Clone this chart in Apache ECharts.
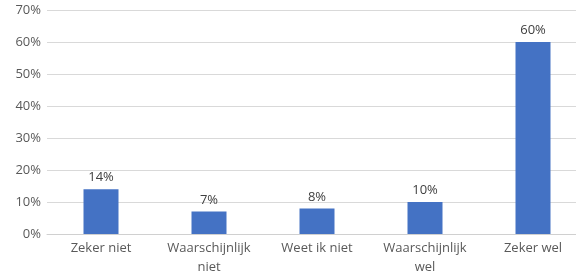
<!DOCTYPE html>
<html lang="nl">
<head>
    <meta charset="UTF-8">
    <title>Zeker niet / Zeker wel</title>
    <script type="text/javascript" src="https://cdn.jsdelivr.net/npm/echarts@6/dist/echarts.min.js"></script>
    <style>
        html, body { margin: 0; padding: 0; background: #fff; overflow: hidden; }
    </style>
</head>
<body>
    <!-- a bit wider than the window: the plot runs past the right edge in the original -->
    <div id="main" style="width: 600px; height: 277px;"></div>
    <script type="text/javascript">
        // data
        var categories = ['Zeker niet', 'Waarschijnlijk\nniet', 'Weet ik niet', 'Waarschijnlijk\nwel', 'Zeker wel'];
        var percentages = [14, 7, 8, 10, 60];
        var yTicks = [0, 10, 20, 30, 40, 50, 60, 70];

        var myChart = echarts.init(document.getElementById('main'));

        myChart.setOption({
            animation: false,
            textStyle: { fontFamily: 'Open Sans' },
            grid: { left: 47, top: 10, width: 540, height: 224, containLabel: false, outerBoundsMode: 'none' },
            xAxis: {
                type: 'category',
                data: categories,
                axisTick: { show: false },
                axisLine: { lineStyle: { color: '#d0d0d0', width: 1 } },
                axisLabel: { color: '#595959', fontSize: 13, margin: 5, lineHeight: 19, interval: 0 }
            },
            yAxis: {
                type: 'value',
                min: yTicks[0],
                max: yTicks[yTicks.length - 1],
                interval: 10,
                axisLine: { show: false },
                axisTick: { show: false },
                splitLine: { lineStyle: { color: '#d9d9d9', width: 1 } },
                axisLabel: { color: '#595959', fontSize: 13, margin: 6, formatter: '{value}%' }
            },
            series: [{
                type: 'bar',
                data: percentages,
                barWidth: 35,
                itemStyle: { color: '#4472c4' },
                label: {
                    show: true,
                    position: 'top',
                    distance: 5,
                    color: '#404040',
                    fontSize: 13,
                    formatter: '{c}%'
                }
            }]
        });
    </script>
</body>
</html>
